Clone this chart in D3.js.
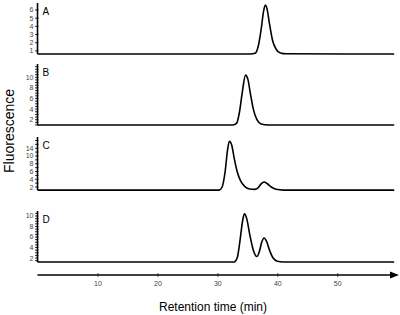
<!DOCTYPE html>
<html>
<head>
    <title>Fluorescence chromatograms</title>
    <script src="https://cdn.jsdelivr.net/npm/d3@7"></script>
    <style>
        body { margin: 0; background: #fff; font-family: Arial, "Liberation Sans", sans-serif; }
        .tick-label { font-size: 7px; fill: #444; }
    </style>
</head>
<body>
    <svg width="400" height="315" id="mainsvg" style="display: block;"></svg>
    <script>
        // retention time (min) and fluorescence
        const timeA = [0, 35.5, 36.3, 36.8, 37.3, 37.7, 38.0, 38.3, 38.7, 39.2, 39.8, 40.5, 41.5, 59.5];
        const fluoA = [0.62, 0.62, 0.7, 1.5, 3.6, 5.8, 6.6, 6.1, 4.3, 2.3, 1.2, 0.75, 0.65, 0.62];

        const timeB = [0, 32.6, 33.2, 33.7, 34.2, 34.7, 35.1, 35.5, 36.0, 36.6, 37.3, 38.5, 59.5];
        const fluoB = [1.0, 1.0, 1.3, 3.5, 7.5, 10.4, 9.6, 7.0, 4.0, 2.0, 1.2, 1.0, 1.0];

        const timeC = [0, 30.3, 30.8, 31.3, 31.7, 32.0, 32.4, 32.8, 33.3, 33.9, 34.6, 35.4, 36.2, 36.8, 37.3, 37.8, 38.3, 39.0, 39.8, 41.0, 59.5];
        const fluoC = [1.2, 1.2, 2.0, 6.0, 11.5, 13.8, 12.8, 9.5, 6.0, 3.5, 2.1, 1.5, 1.4, 1.8, 2.8, 3.3, 2.9, 2.0, 1.4, 1.2, 1.2];

        const timeD = [0, 32.8, 33.3, 33.8, 34.2, 34.5, 34.9, 35.4, 36.0, 36.6, 37.0, 37.4, 37.8, 38.2, 38.7, 39.3, 40.0, 41.0, 59.5];
        const fluoD = [1.25, 1.25, 2.0, 5.5, 9.0, 10.4, 9.5, 6.5, 3.5, 2.3, 3.2, 5.0, 5.8, 5.2, 3.5, 2.0, 1.4, 1.25, 1.25];

        const panelNames = ['A', 'B', 'C', 'D'];
        const yTickValues = [[1, 2, 3, 4, 5, 6], [2, 4, 6, 8, 10], [2, 4, 6, 8, 10, 12], [2, 4, 6, 8, 10]];
        const yTickLabels = [['1', '2', '3', '4', '5', '6'], ['2', '4', '6', '8', '10'], ['2', '4', '6', '8', '10', '14'], ['2', '4', '6', '8', '10']];
        const xTickValues = [10, 20, 30, 40, 50];

        const traces = [
            { t: timeA, f: fluoA },
            { t: timeB, f: fluoB },
            { t: timeC, f: fluoC },
            { t: timeD, f: fluoD }
        ];

        // panel layout: axis value extent -> pixel extent
        const layout = [
            { domain: [0.62, 6.85], range: [54, 3], minor: 1 },
            { domain: [1.0, 12.5], range: [125, 64], minor: 0.5 },
            { domain: [1.23, 14.9], range: [190, 137], minor: 1 },
            { domain: [1.24, 10.95], range: [262, 211], minor: 0.5 }
        ];

        const svg = d3.select('#mainsvg');
        const x0 = 37.5, x1 = 393;

        const xScale = d3.scaleLinear().domain([0, 59.3]).range([x0, x1]);

        panelNames.forEach((name, i) => {
            const L = layout[i];
            const y = d3.scaleLinear().domain(L.domain).range(L.range);
            const g = svg.append('g');

            // minor ticks
            const minorTicks = d3.range(Math.ceil(L.domain[0] / L.minor) * L.minor, L.domain[1], L.minor);
            g.selectAll('line.minor')
                .data(minorTicks)
                .enter()
                .append('line')
                    .attr('x1', x0 - 2.5).attr('x2', x0 + 1)
                    .attr('y1', d => y(d)).attr('y2', d => y(d))
                    .attr('stroke', '#000').attr('stroke-width', 0.8);

            // axis line
            g.append('line')
                .attr('x1', x0).attr('x2', x0)
                .attr('y1', y(L.domain[0])).attr('y2', y(L.domain[1]))
                .attr('stroke', '#000').attr('stroke-width', 1.6);

            // labels
            g.selectAll('text.tick-label')
                .data(yTickValues[i])
                .enter()
                .append('text')
                    .attr('class', 'tick-label')
                    .attr('x', x0 - 4)
                    .attr('y', d => y(d) + 2.5)
                    .attr('text-anchor', 'end')
                    .text((d, k) => yTickLabels[i][k]);

            // trace
            const pts = traces[i].t.map((t, k) => [t, traces[i].f[k]]);
            g.append('path')
                .datum(pts)
                .attr('fill', 'none')
                .attr('stroke', '#000')
                .attr('stroke-width', 1.6)
                .attr('d', d3.line()
                    .x(d => xScale(d[0]))
                    .y(d => y(d[1]))
                    .curve(d3.curveMonotoneX));

            // panel letter
            g.append('text')
                .attr('x', x0 + 5)
                .attr('y', y(L.domain[1]) + 12)
                .attr('font-size', 10)
                .text(name);
        });

        // time axis with arrow
        const axisY = 275;
        const xAxis = svg.append('g')
            .attr('transform', `translate(0, ${axisY})`)
            .call(d3.axisBottom(xScale).tickValues(xTickValues).tickSize(2).tickSizeOuter(0));
        xAxis.select('.domain').remove();
        xAxis.selectAll('.tick line').attr('y1', -2).attr('stroke', '#666');
        xAxis.selectAll('.tick text')
            .attr('y', 6)
            .attr('font-size', 7)
            .attr('font-family', 'Arial, "Liberation Sans", sans-serif')
            .attr('fill', '#444');

        svg.append('line')
            .attr('x1', x0).attr('x2', 392)
            .attr('y1', axisY).attr('y2', axisY)
            .attr('stroke', '#000').attr('stroke-width', 1.6);
        svg.append('path')
            .attr('d', `M390,${axisY - 3.5} L399,${axisY} L390,${axisY + 3.5} Z`)
            .attr('fill', '#000');

        svg.append('text')
            .attr('x', 213)
            .attr('y', 311)
            .attr('text-anchor', 'middle')
            .attr('font-size', 12)
            .text('Retention time (min)');

        svg.append('text')
            .attr('transform', 'rotate(-90)')
            .attr('x', -131)
            .attr('y', 14)
            .attr('text-anchor', 'middle')
            .attr('font-size', 14)
            .text('Fluorescence');
    </script>
</body>
</html>
